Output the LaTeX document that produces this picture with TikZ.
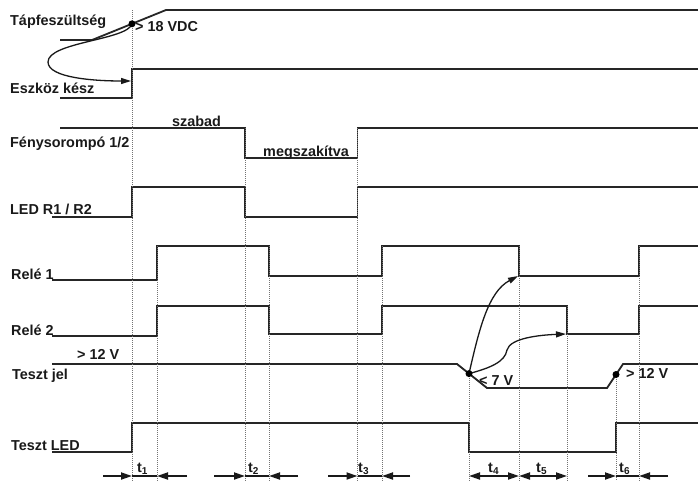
\documentclass[tikz,border=0pt]{standalone}
\usepackage{fontspec}
\setmainfont{Liberation Sans}
\usepackage{tikz}
\usepackage{xcolor}
\usetikzlibrary{arrows.meta}

\tikzset{
    sig/.style={line width=1.8pt, black!85},
    guide/.style={black!55, line width=1pt, densely dotted},
    lbl/.style={anchor=base west, inner sep=0pt, text=black!90, font=\fontsize{14.4}{16}\selectfont\bfseries},
    tarrow/.style={line width=1.8pt, black!90, -{Triangle[length=11pt,width=7pt]}},
    tboth/.style={line width=1.8pt, black!90, {Triangle[length=11pt,width=7pt]}-{Triangle[length=11pt,width=7pt]}},
    cause/.style={line width=1.3pt, black!90, -{Triangle[length=10pt,width=6pt]}}
}

\begin{document}
\begin{tikzpicture}[x=1pt,y=1pt]
            %\draw[help lines,step=10] (0,0) grid (698,-482);
            \useasboundingbox (0,0) rectangle (698,-482);

            % signal names
            \node[lbl] (tap) at (10,-25) {Tápfeszültség};
            \node[lbl] (eszk) at (10,-93) {Eszköz kész};
            \node[lbl] (feny) at (10,-147) {Fénysorompó 1/2};
            \node[lbl] (led) at (10,-214) {LED R1 / R2};
            \node[lbl] (rele1) at (11,-279) {Relé 1};
            \node[lbl] (rele2) at (11,-335) {Relé 2};
            \node[lbl] (teszt) at (12,-379) {Teszt jel};
            \node[lbl] (tled) at (11,-450) {Teszt LED};

            % signals
            \draw[sig] (60,-40) -- (92,-40) -- (166,-10) -- (698,-10);
            \draw[sig] (60,-98) -- (132,-98) -- (132,-69) -- (698,-69);
            \draw[sig] (60,-128) -- (245,-128) -- (245,-158) -- (357.5,-158) -- (357.5,-128) -- (698,-128);
            \draw[sig] (52,-217) -- (132,-217) -- (132,-187) -- (245,-187) -- (245,-217)
                -- (357.5,-217) -- (357.5,-187) -- (698,-187);
            \draw[sig] (52,-280) -- (157,-280) -- (157,-246) -- (269,-246) -- (269,-276) -- (382,-276)
                -- (382,-246) -- (519,-246) -- (519,-276) -- (639,-276) -- (639,-246) -- (698,-246);
            \draw[sig] (52,-336) -- (157,-336) -- (157,-306) -- (269,-306) -- (269,-334) -- (382,-334)
                -- (382,-306) -- (567,-306) -- (567,-334) -- (639,-334) -- (639,-306) -- (698,-306);
            \draw[sig] (52,-364) -- (457,-364) -- (487,-388) -- (607,-388) -- (623,-364) -- (698,-364);
            \draw[sig] (52,-452) -- (132,-452) -- (132,-423) -- (469,-423) -- (469,-452)
                -- (616,-452) -- (616,-423) -- (698,-423);

            \foreach \x/\y in {132/10,157/246,245/128,269/246,357.5/128,382/246,469/374,519/246,567/306,616/375,639/246}
            {
                \draw[guide] (\x,-\y) -- (\x,-481);
            }

            % levels
            \node[lbl] (v18) at (135,-31) {> 18 VDC};
            \node[lbl] (szabad) at (172,-126) {szabad};
            \node[lbl] (megsz) at (263,-156) {megszakítva};
            \node[lbl] (v12a) at (77,-359) {> 12 V};
            \node[lbl] (v7) at (479,-385) {< 7 V};
            \node[lbl] (v12b) at (626,-378) {> 12 V};

            % causes
            \coordinate (vdc) at (132,-23.8);
            \coordinate (ready) at (131,-81);
            \coordinate (drop) at (469,-373.6);
            \coordinate (rise) at (616,-374.5);
            \coordinate (r1off) at (518,-276);
            \coordinate (r2off) at (566,-334);
            \draw[cause] (vdc) .. controls (128,-40) and (48,-42) .. (48,-62)
                .. controls (48,-78) and (95,-81) .. (ready);
            \draw[cause] (drop) .. controls (479,-330) and (488,-292) .. (r1off);
            \draw[cause] (drop) .. controls (490,-368) and (505,-362) .. (507,-350)
                .. controls (510,-338) and (540,-335) .. (r2off);
            \foreach \p in {vdc,drop,rise}
            {
                \fill[black] (\p) circle (3.5);
            }

            % times
            \foreach \a/\b/\c/\d in {103/132/157/187, 214/245/269/298, 328/357.5/382/410, 588/616/639/668}
            {
                \draw[tarrow] (\a,-476) -- (\b,-476);
                \draw[line width=1.8pt, black!90] (\b,-476) -- (\c,-476);
                \draw[tarrow] (\d,-476) -- (\c,-476);
            }
            \draw[tboth] (469,-476) -- (519,-476);
            \draw[tboth] (519,-476) -- (567,-476);
            \foreach \x/\i in {137/1, 248/2, 358/3, 488/4, 536/5, 619/6}
            {
                \node[lbl] (t\i) at (\x,-472) {t\textsubscript{\i}};
            }

        \end{tikzpicture}
\end{document}
